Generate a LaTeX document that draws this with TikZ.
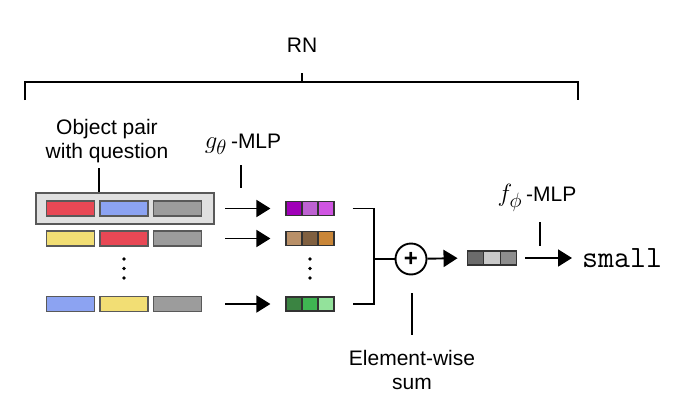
\documentclass[tikz,border=0pt]{standalone}
\usepackage{fontspec}
\setmainfont{Liberation Sans}
\usetikzlibrary{arrows.meta}
\definecolor{barred}{HTML}{E84855}
\definecolor{barblue}{HTML}{8CA3F2}
\definecolor{baryel}{HTML}{F2DE74}
\definecolor{bargray}{HTML}{9C9C9C}
\definecolor{pa}{HTML}{A000B8}
\definecolor{pb}{HTML}{BE62D2}
\definecolor{pc}{HTML}{D055E2}
\definecolor{ba}{HTML}{B99068}
\definecolor{bb}{HTML}{806040}
\definecolor{bc}{HTML}{C98638}
\definecolor{ga}{HTML}{3B8442}
\definecolor{gb}{HTML}{3FB552}
\definecolor{gc}{HTML}{93E29B}
\definecolor{ka}{HTML}{6B6B6B}
\definecolor{kb}{HTML}{C9C9C9}
\definecolor{kc}{HTML}{8E8E8E}
\begin{document}
\begin{tikzpicture}[x=1pt,y=-1pt,
    bar/.style={draw=black!65, line width=1.3pt, minimum width=48pt, minimum height=15pt, inner sep=0pt},
    cell/.style={draw=black!80, line width=1.2pt, minimum width=16pt, minimum height=14pt, inner sep=0pt},
    conn/.style={line width=1.9pt},
    arr/.style={conn, -{Triangle[length=14pt,width=17pt]}},
    lbl/.style={font=\fontsize{21}{24}\selectfont},
    mth/.style={font=\fontsize{32}{34}\selectfont}]
  \useasboundingbox (0,0) rectangle (690,415);
  % top bracket
  \node[lbl] (rn) at (302,45) {RN};
  \coordinate (brl) at (25,100);
  \coordinate (brr) at (578,100);
  \coordinate (brtop) at (302,82);
  \draw[conn] (brl) |- (brtop) -| (brr);
  \draw[conn] (brtop) -- ++(0,-9);
  % object pairs
  \node[lbl, align=center] (obj) at (107,141) {Object pair\\with question};
  \node[draw=black!65, fill=black!12, line width=1.3pt, minimum width=178pt, minimum height=31pt] (pair) at (125,208.5) {};
  \coordinate (objtip) at (99,168);
  \draw[conn] (objtip) -- (objtip |- pair.north);
  \foreach \r/\y/\ca/\cb in {1/208.5/barred/barblue, 2/238.5/baryel/barred, 3/304/barblue/baryel} {
    \node[bar, fill=\ca] (a\r) at (70.5,\y) {};
    \node[bar, fill=\cb] (b\r) at (124,\y) {};
    \node[bar, fill=bargray] (c\r) at (177.5,\y) {};
  }
  % g-MLP outputs
  \node[mth] (gmlp) at (243,144) {$g_\theta$\fontsize{21}{24}\selectfont\hspace{4pt}-MLP};
  \coordinate (gtip) at (241,165);
  \draw[conn] (gtip) -- ++(0,23);
  \foreach \r/\y/\ca/\cb/\cc in {1/208.5/pa/pb/pc, 2/238.5/ba/bb/bc, 3/304/ga/gb/gc} {
    \node[cell, fill=\ca] (p\r) at (294,\y) {};
    \node[cell, fill=\cb] (q\r) at (310,\y) {};
    \node[cell, fill=\cc] (s\r) at (326,\y) {};
    \draw[arr, shorten <=23pt, shorten >=15pt] (c\r.east) -- (p\r.west);
  }
  \foreach \x in {124,310}
    \foreach \y in {259,268.5,278}
      \fill (\x,\y) circle (1.8pt);
  % sum
  \node[draw, circle, line width=1.9pt, minimum size=31pt, inner sep=0pt, font=\fontsize{24}{24}\selectfont\bfseries] (sum) at (411,259) {+};
  \coordinate (jn) at (374,259);
  \draw[conn] ([xshift=18pt]s1.east) -| (jn) |- ([xshift=18pt]s3.east);
  \draw[conn] (jn) -- (sum);
  \coordinate (stip) at (412,293);
  \draw[conn] (stip) -- ++(0,42);
  \node[lbl, align=center] (esum) at (412,370) {Element-wise\\sum};
  % f-MLP
  \node[cell, fill=ka, minimum width=16.7pt] (o1) at (475.5,258) {};
  \node[cell, fill=kb, minimum width=16.7pt] (o2) at (492,258) {};
  \node[cell, fill=kc, minimum width=16.7pt] (o3) at (508.5,258) {};
  \draw[arr, shorten >=9pt] (sum) -- (o1.west);
  \node[mth] (fmlp) at (537,198) {$f_\phi$\fontsize{21}{24}\selectfont\hspace{4pt}-MLP};
  \coordinate (ftip) at (540,222);
  \draw[conn] (ftip) -- ++(0,24);
  \node[anchor=west, inner sep=0pt, font=\ttfamily\fontsize{31}{31}\selectfont] (ans) at (582,258) {small};
  \draw[arr, shorten <=8pt, shorten >=10pt] (o3.east) -- (ans.west);
\end{tikzpicture}
\end{document}
